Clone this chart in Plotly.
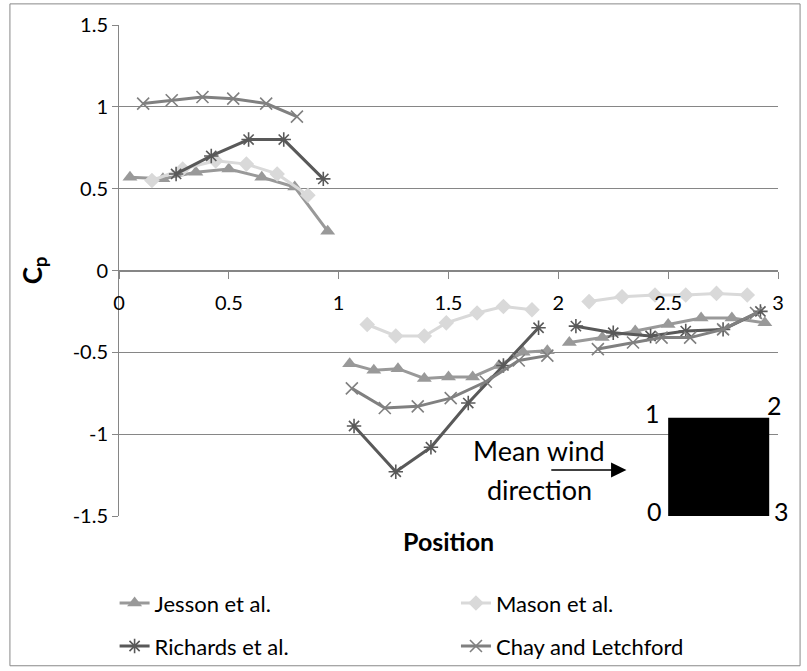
import plotly.graph_objects as go

# ---------------- data ----------------
x_jesson = [0.05, 0.2, 0.35, 0.5, 0.65, 0.8, 0.95, None,
            1.05, 1.16, 1.27, 1.39, 1.5, 1.61, 1.73, 1.84, 1.95, None,
            2.05, 2.2, 2.35, 2.5, 2.65, 2.79, 2.94]
y_jesson = [0.57, 0.56, 0.60, 0.62, 0.57, 0.51, 0.24, None,
            -0.57, -0.61, -0.60, -0.66, -0.65, -0.65, -0.58, -0.50, -0.49, None,
            -0.44, -0.41, -0.37, -0.33, -0.29, -0.29, -0.32]

x_mason = [0.15, 0.29, 0.44, 0.58, 0.72, 0.86, None,
           1.13, 1.26, 1.39, 1.49, 1.63, 1.75, 1.88, None,
           2.14, 2.29, 2.44, 2.58, 2.72, 2.86]
y_mason = [0.55, 0.62, 0.67, 0.65, 0.59, 0.46, None,
           -0.33, -0.40, -0.40, -0.32, -0.26, -0.22, -0.24, None,
           -0.19, -0.16, -0.15, -0.15, -0.14, -0.15]

x_richards = [0.26, 0.42, 0.59, 0.75, 0.93, None,
              1.07, 1.26, 1.42, 1.59, 1.75, 1.91, None,
              2.08, 2.25, 2.42, 2.58, 2.75, 2.92]
y_richards = [0.59, 0.70, 0.80, 0.80, 0.56, None,
              -0.95, -1.23, -1.08, -0.81, -0.58, -0.35, None,
              -0.34, -0.38, -0.40, -0.37, -0.36, -0.25]

x_chay = [0.11, 0.24, 0.38, 0.52, 0.67, 0.81, None,
          1.06, 1.21, 1.36, 1.51, 1.67, 1.82, 1.95, None,
          2.18, 2.34, 2.47, 2.6, 2.75, 2.9]
y_chay = [1.02, 1.04, 1.06, 1.05, 1.02, 0.94, None,
          -0.72, -0.84, -0.83, -0.78, -0.68, -0.55, -0.52, None,
          -0.48, -0.44, -0.41, -0.41, -0.36, -0.26]

series_names = ["Jesson et al.", "Mason et al.", "Richards et al.", "Chay and Letchford"]

y_tick_vals = [-1.5, -1, -0.5, 0, 0.5, 1, 1.5]
y_tick_text = ["-1.5", "-1", "-0.5", "0", "0.5", "1", "1.5"]
x_tick_vals = [0, 0.5, 1, 1.5, 2, 2.5, 3]
x_tick_text = ["0", "0.5", "1", "1.5", "2", "2.5", "3"]

FONT = "Lato"

fig = go.Figure()

styles = [
    (x_jesson, y_jesson, "#999999", "triangle-up", 13, 0, "legend"),
    (x_mason, y_mason, "#d9d9d9", "diamond", 12, 0, "legend2"),
    (x_richards, y_richards, "#595959", "asterisk-open", 12, 1.6, "legend3"),
    (x_chay, y_chay, "#808080", "x-thin-open", 12, 1.6, "legend4"),
]
for name, (xs, ys, col, sym, sz, mlw, lg) in zip(series_names, styles):
    fig.add_trace(go.Scatter(
        x=xs, y=ys, name=name, mode="lines+markers",
        connectgaps=False,
        line=dict(color=col, width=3),
        marker=dict(symbol=sym, size=sz, color=col, line=dict(color=col, width=mlw)),
        legend=lg,
    ))

axis_col = "#868686"
leg_font = dict(family=FONT, size=22, color="black")


def leg(x, y):
    return dict(orientation="h", x=x, y=y, xref="container", yref="container",
                xanchor="left", yanchor="middle",
                font=leg_font, bgcolor="rgba(0,0,0,0)")


fig.update_layout(
    width=807, height=671,
    margin=dict(l=119, r=29, t=25, b=155),
    paper_bgcolor="white", plot_bgcolor="white",
    font=dict(family=FONT, size=20, color="black"),
    xaxis=dict(
        range=[0, 3], tickvals=x_tick_vals, ticktext=x_tick_text,
        showgrid=False, zeroline=False,
        showline=True, linecolor=axis_col, linewidth=1,
        ticks="outside", ticklen=7, tickcolor=axis_col,
        anchor="free", position=0.5, ticklabelstandoff=7,
        tickfont=dict(family=FONT, size=20, color="black"),
    ),
    yaxis=dict(
        range=[-1.5, 1.5], tickvals=y_tick_vals, ticktext=y_tick_text,
        showgrid=True, gridcolor=axis_col, gridwidth=1,
        zeroline=False,
        showline=True, linecolor=axis_col, linewidth=1,
        ticks="outside", ticklen=6, tickcolor=axis_col,
        tickfont=dict(family=FONT, size=20, color="black"),
        title=dict(text="<b>C<sub>p</sub></b>", font=dict(family=FONT, size=26), standoff=22),
    ),
    legend=leg(0.142, 0.101),
    legend2=leg(0.565, 0.101),
    legend3=leg(0.142, 0.037),
    legend4=leg(0.565, 0.037),
    showlegend=True,
)

# outer chart border
fig.add_shape(type="rect", xref="paper", yref="paper",
              x0=-0.1655, x1=1.0335, y0=-0.305, y1=1.043,
              line=dict(color="#888888", width=1), fillcolor="rgba(0,0,0,0)", layer="below")

# building (black square)
fig.add_shape(type="rect", xref="x", yref="y", x0=2.5, x1=2.96, y0=-1.5, y1=-0.9,
              line=dict(color="black", width=0), fillcolor="black")

# wind arrow
fig.add_shape(type="line", xref="x", yref="y", x0=1.968, x1=2.25, y0=-1.219, y1=-1.219,
              line=dict(color="black", width=1.5))
fig.add_shape(type="path", xref="x", yref="y",
              path="M 2.24,-1.173 L 2.31,-1.219 L 2.24,-1.265 Z",
              fillcolor="black", line=dict(color="black", width=0))

ann_font = dict(family=FONT, size=27, color="black")
fig.add_annotation(text="<b>Position</b>", xref="paper", yref="paper", x=0.5, y=-0.051,
                   showarrow=False, yanchor="middle", font=dict(family=FONT, size=25, color="black"))
fig.add_annotation(text="Mean wind", x=1.914, y=-1.10, showarrow=False, font=ann_font)
fig.add_annotation(text="direction", x=1.914, y=-1.335, showarrow=False, font=ann_font)
num_font = dict(family=FONT, size=25, color="black")
for lbl, lx, ly in [("1", 2.427, -0.87), ("2", 2.985, -0.82), ("0", 2.436, -1.47)]:
    fig.add_annotation(text=lbl, x=lx, y=ly, showarrow=False, font=num_font)
fig.add_annotation(text="3", xref="paper", yref="y", x=0.991, y=-1.47, xanchor="left",
                   showarrow=False, font=num_font)

fig.write_html("out.html")
